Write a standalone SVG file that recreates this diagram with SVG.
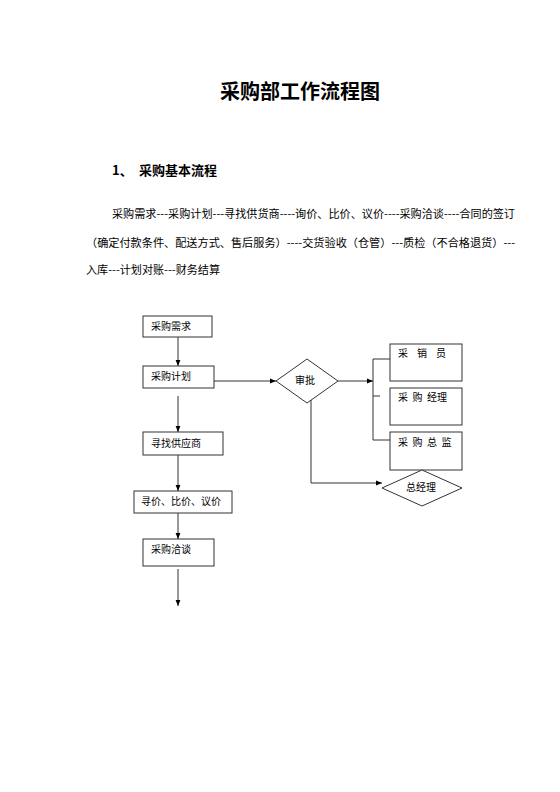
<svg xmlns="http://www.w3.org/2000/svg" width="560" height="792" viewBox="0 0 560 792">
<defs>
<marker id="ah" viewBox="0 0 10 10" refX="10" refY="5" markerWidth="6" markerHeight="6" orient="auto" markerUnits="userSpaceOnUse">
<path d="M0,1 L10,5 L0,9 Z" fill="#000"/>
</marker>
</defs>
<style>
text{font-family:"Noto Sans CJK SC","Liberation Sans",sans-serif;fill:#000}
.t{font-size:20px;font-weight:bold}
.h{font-size:13px;font-weight:bold}
.p{font-size:11px}
.n{font-size:10px}
.box{fill:#fff;stroke:#333;stroke-width:1}
.ln{fill:none;stroke:#333;stroke-width:1}
.ar{fill:none;stroke:#333;stroke-width:1;marker-end:url(#ah)}
</style>
<rect width="560" height="792" fill="#fff"/>
<text class="t" x="300" y="99" text-anchor="middle">采购部工作流程图</text>
<text class="h" x="112" y="175">1、</text>
<text class="h" x="139" y="175">采购基本流程</text>
<text class="p" x="112" y="218" textLength="403" lengthAdjust="spacingAndGlyphs">采购需求---采购计划---寻找供货商----询价、比价、议价----采购洽谈----合同的签订</text>
<text class="p" x="86" y="247" textLength="429" lengthAdjust="spacingAndGlyphs">（确定付款条件、配送方式、售后服务）----交货验收（仓管）---质检（不合格退货）---</text>
<text class="p" x="86" y="274" textLength="134" lengthAdjust="spacingAndGlyphs">入库---计划对账---财务结算</text>

<g id="connectors">
<line class="ar" x1="178" y1="337" x2="178" y2="366"/>
<line class="ar" x1="214" y1="381" x2="276" y2="381"/>
<line class="ar" x1="178" y1="396" x2="178" y2="432"/>
<line class="ar" x1="178" y1="455" x2="178" y2="491"/>
<line class="ar" x1="178" y1="513" x2="178" y2="539"/>
<line class="ar" x1="178" y1="569" x2="178" y2="606"/>
<line class="ar" x1="338" y1="381" x2="373" y2="381"/>
<polyline class="ln" points="390,359 373,359 373,440 390,440"/>
<line class="ln" x1="373" y1="396" x2="380" y2="396"/>
<polyline class="ar" points="311,400 311,483 382,483"/>
</g>

<g id="n1"><rect class="box" x="143" y="316" width="69" height="21"/><text class="n" x="151" y="330">采购需求</text></g>
<g id="n2"><rect class="box" x="143" y="366" width="71" height="22"/><text class="n" x="151" y="380">采购计划</text></g>
<g id="n3"><rect class="box" x="143" y="432" width="80" height="23"/><text class="n" x="151" y="447">寻找供应商</text></g>
<g id="n4"><rect class="box" x="134" y="491" width="98" height="22"/><text class="n" x="141" y="505">寻价、比价、议价</text></g>
<g id="n5"><rect class="box" x="143" y="539" width="71" height="27"/><text class="n" x="151" y="553">采购洽谈</text></g>
<g id="n6"><polygon class="box" points="276,381 307,359 338,381 307,403"/><text class="n" x="305" y="384" text-anchor="middle">审批</text></g>
<g id="n7"><rect class="box" x="390" y="344" width="72" height="37"/><text class="n" x="398" y="357" xml:space="preserve">采    销    员</text></g>
<g id="n8"><rect class="box" x="390" y="388" width="72" height="37"/><text class="n" x="398" y="401" xml:space="preserve">采  购  经理</text></g>
<g id="n9"><rect class="box" x="390" y="432" width="72" height="38"/><text class="n" x="398" y="446" xml:space="preserve">采  购  总  监</text></g>
<g id="n10"><polygon class="box" points="382,488 422,470 462,488 422,506"/><text class="n" x="421" y="491" text-anchor="middle">总经理</text></g>
</svg>
